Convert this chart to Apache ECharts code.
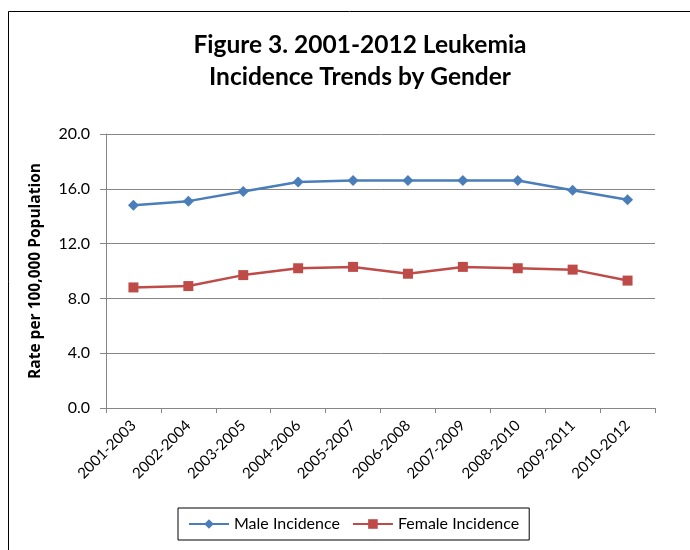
<!DOCTYPE html>
<html>
<head>
<meta charset="utf-8">
<script src="https://cdn.jsdelivr.net/npm/echarts@6/dist/echarts.min.js"></script>
<style>
  html, body { margin: 0; padding: 0; background: #fff; }
  #chart { width: 690px; height: 550px; }
</style>
</head>
<body>
<div id="chart"></div>
<script>
// 데이터
const periods = ['2001-2003', '2002-2004', '2003-2005', '2004-2006', '2005-2007',
                 '2006-2008', '2007-2009', '2008-2010', '2009-2011', '2010-2012'];
const maleRates   = [14.8, 15.1, 15.8, 16.5, 16.6, 16.6, 16.6, 16.6, 15.9, 15.2];
const femaleRates = [8.8, 8.9, 9.7, 10.2, 10.3, 9.8, 10.3, 10.2, 10.1, 9.3];
const seriesNames = ['Male Incidence', 'Female Incidence'];

const font = 'Lato, "Open Sans", sans-serif';
const gridColor = '#868686';

var myChart = echarts.init(document.getElementById('chart'), null, { renderer: 'canvas' });

var option = {
    backgroundColor: '#fff',
    animation: false,
    title: {
        text: 'Figure 3. 2001-2012 Leukemia\nIncidence Trends by Gender',
        left: 355,
        top: 24,
        textAlign: 'center',
        textStyle: {
            fontFamily: font,
            fontSize: 24.5,
            fontWeight: 'bold',
            color: '#000',
            lineHeight: 32
        }
    },
    //바깥 테두리
    graphic: [{
        type: 'rect',
        shape: { x: 8.5, y: 11.5, width: 720, height: 580 },
        style: { fill: 'none', stroke: '#000', lineWidth: 1 },
        silent: true
    }],
    legend: {
        bottom: 10,
        left: 178,
        itemWidth: 40,
        itemHeight: 12,
        itemGap: 12,
        padding: [8, 10, 8, 10],
        borderColor: '#000',
        borderWidth: 1,
        textStyle: { fontFamily: font, fontSize: 16, color: '#000' },
        data: seriesNames
    },
    grid: {
        left: 106,
        right: 35,
        top: 134,
        bottom: 142,
        containLabel: false
    },
    xAxis: {
        type: 'category',
        data: periods,
        boundaryGap: true,
        axisLine: { lineStyle: { color: gridColor } },
        axisTick: { show: true, length: 5, alignWithLabel: false, lineStyle: { color: gridColor } },
        axisLabel: {
            rotate: 45,
            interval: 0,
            margin: 15,
            fontFamily: font,
            fontSize: 15,
            color: '#000'
        }
    },
    yAxis: {
        type: 'value',
        min: 0,
        max: 20,
        interval: 4,
        name: 'Rate per 100,000 Population',
        nameLocation: 'middle',
        nameGap: 62,
        nameTextStyle: { fontFamily: '"Open Sans", Lato, sans-serif', fontSize: 15.5, fontWeight: 'bold', color: '#000' },
        axisLine: { show: true, lineStyle: { color: gridColor } },
        axisTick: { show: true, length: 6, lineStyle: { color: gridColor } },
        axisLabel: {
            fontFamily: font,
            fontSize: 16,
            color: '#000',
            margin: 16,
            formatter: (v) => v.toFixed(1)
        },
        splitLine: { show: true, lineStyle: { color: gridColor, width: 1 } }
    },
    series: [
        {
            name: seriesNames[0],
            type: 'line',
            data: maleRates,
            symbol: 'diamond',
            symbolSize: 11,
            lineStyle: { color: '#4a7ebb', width: 2.5 },
            itemStyle: { color: '#4a7ebb' }
        },
        {
            name: seriesNames[1],
            type: 'line',
            data: femaleRates,
            symbol: 'rect',
            symbolSize: 10,
            lineStyle: { color: '#be4b48', width: 2.5 },
            itemStyle: { color: '#be4b48' }
        }
    ]
};

myChart.setOption(option);
</script>
</body>
</html>
